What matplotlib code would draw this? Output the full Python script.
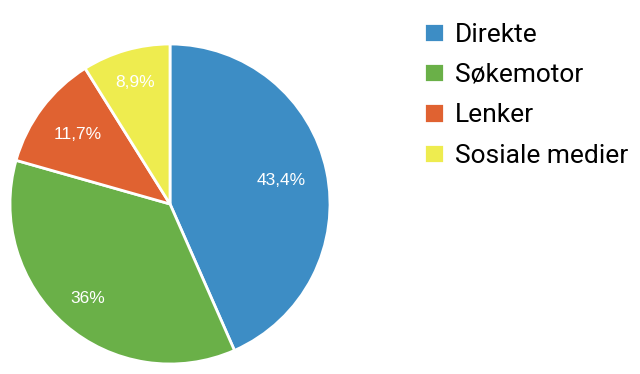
import matplotlib.pyplot as plt
import numpy as np

# traffic sources
labels = ["Direkte", "Søkemotor", "Lenker", "Sosiale medier"]
values = [43.4, 36.0, 11.7, 8.9]
value_labels = ["43,4%", "36%", "11,7%", "8,9%"]
colors = ["#3d8dc5", "#6ab048", "#e06231", "#eeec4f"]
label_radius = [0.71, 0.78, 0.72, 0.79]

plt.rcParams["font.family"] = ["Roboto", "DejaVu Sans"]

fig = plt.figure(figsize=(6.4, 3.74), dpi=100)
ax = fig.add_axes([10 / 640, 10 / 374, 320 / 640, 320 / 374])

wedges, _ = ax.pie(values, colors=colors, startangle=90, counterclock=False,
                   wedgeprops=dict(edgecolor="white", linewidth=2))
ax.set_aspect("equal")
ax.set_xlim(-1, 1)
ax.set_ylim(-1, 1)

# percentage labels inside the slices
total = sum(values)
start = 90.0
for val, txt, r in zip(values, value_labels, label_radius):
    mid = start - val / total * 360 / 2
    ax.text(r * np.cos(np.radians(mid)), r * np.sin(np.radians(mid)), txt,
            ha="center", va="center", color="white", fontsize=12.5,
            family=["Liberation Sans", "DejaVu Sans"])
    start -= val / total * 360

fig.legend(wedges, labels, loc="upper left", bbox_to_anchor=(413 / 640, 1 - 12 / 374),
           frameon=False, fontsize=19, handlelength=0.76, handleheight=0.76,
           handletextpad=0.42, labelspacing=0.62, borderaxespad=0)

fig.savefig("out.png", dpi=100)
